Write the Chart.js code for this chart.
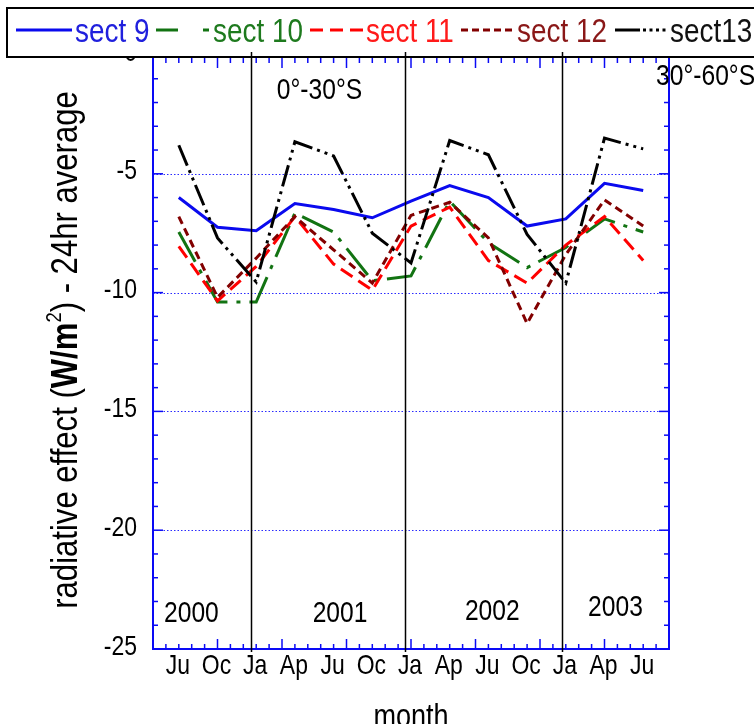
<!DOCTYPE html>
<html>
<head>
<meta charset="utf-8">
<script src="https://cdn.jsdelivr.net/npm/chart.js@4.4.1/dist/chart.umd.min.js"></script>
<style>
  html, body { margin: 0; padding: 0; background: #fff; }
  #wrap { width: 754px; height: 724px; overflow: hidden; }
  canvas { display: block; }
</style>
</head>
<body>
<div id="wrap"><canvas id="chart" width="754" height="724"></canvas></div>
<script>
// Seasonal samples: month index on the x axis (Jul 2000 = 2, one unit per month)
const monthPos    = [2, 5, 8, 11, 14, 17, 20, 23, 26, 29, 32, 35, 38];
const monthLabels = ['Ju', 'Oc', 'Ja', 'Ap', 'Ju', 'Oc', 'Ja', 'Ap', 'Ju', 'Oc', 'Ja', 'Ap', 'Ju'];
const yearBreaks  = [7.6, 19.55, 31.7];
const yearLabels  = ['2000', '2001', '2002', '2003'];
const yTickValues = [0, -5, -10, -15, -20, -25];
const gridValues  = [-5, -10, -15, -20];

// Radiative effect (W/m^2), 24 hr average, per sector
const sect9  = [-6.0, -7.25, -7.4, -6.25, -6.5, -6.85, -6.15, -5.5, -6.0, -7.2, -6.9, -5.4, -5.7];
const sect10 = [-7.45, -10.4, -10.4, -6.65, -7.45, -9.5, -9.3, -6.15, -7.9, -8.95, -8.1, -6.9, -7.45];
const sect11 = [-8.05, -10.35, -8.9, -6.8, -8.8, -9.9, -7.2, -6.4, -8.65, -9.6, -8.0, -6.8, -8.65];
const sect12 = [-6.8, -10.2, -8.55, -6.8, -8.2, -9.6, -6.75, -6.2, -7.7, -11.3, -8.4, -6.1, -7.2];
const sect13 = [-3.8, -7.7, -9.55, -3.65, -4.25, -7.5, -8.75, -3.6, -4.2, -7.55, -9.6, -3.5, -3.95];

const FONT = '"Liberation Sans", Arial, Helvetica, sans-serif';
const AXIS_BLUE = '#0a0af5';

const series = [
  { label: 'sect 9',  values: sect9,  color: '#0a0aee', text: '#2020dd', dash: [],                  order: 5 },
  { label: 'sect 10', values: sect10, color: '#127312', text: '#1e7a1e', dash: [34, 9, 4, 9],       order: 4 },
  { label: 'sect 11', values: sect11, color: '#ff0000', text: '#ff1a1a', dash: [14, 7],             order: 3 },
  { label: 'sect 12', values: sect12, color: '#820000', text: '#8a1818', dash: [8, 5],              order: 2 },
  { label: 'sect13',  values: sect13, color: '#000000', text: '#111111', dash: [22, 5, 3, 5, 3, 5], order: 1 }
];

// placement of annotation text, in data units
const yearTextAt = [
  { x: 2.98,  y: -23.85 },
  { x: 14.5,  y: -23.85 },
  { x: 26.3,  y: -23.77 },
  { x: 35.85, y: -23.6 }
];
const regionText = [
  { text: '0°-30°S',  x: 9.6,  y: -1.87 },
  { text: '30°-60°S', x: 39.0, y: -1.26 }
];

function txt(ctx, s, x, y, o) {
  ctx.save();
  ctx.translate(x, y);
  if (o.rot) ctx.rotate(o.rot);
  ctx.scale(o.sx || 0.82, 1);
  ctx.font = (o.weight || 'normal') + ' ' + o.size + 'px ' + FONT;
  ctx.fillStyle = o.color || '#000';
  ctx.textAlign = o.align || 'left';
  ctx.textBaseline = 'alphabetic';
  ctx.fillText(s, 0, 0);
  ctx.restore();
}

function yTitle(ctx, cx, cy) {
  const size = 37, sx = 0.84;
  const parts = [
    { t: 'radiative effect (', w: 'normal', s: size, dy: 0 },
    { t: 'W/m', w: 'bold', s: size, dy: 0 },
    { t: '2', w: 'normal', s: Math.round(size * 0.6), dy: -size * 0.42 },
    { t: ') - 24hr average', w: 'normal', s: size, dy: 0 }
  ];
  ctx.save();
  ctx.translate(cx, cy);
  ctx.rotate(-Math.PI / 2);
  ctx.scale(sx, 1);
  ctx.fillStyle = '#000';
  ctx.textBaseline = 'alphabetic';
  ctx.textAlign = 'left';
  let total = 0;
  parts.forEach(p => { ctx.font = p.w + ' ' + p.s + 'px ' + FONT; p.width = ctx.measureText(p.t).width; total += p.width; });
  let x = -total / 2;
  parts.forEach(p => { ctx.font = p.w + ' ' + p.s + 'px ' + FONT; ctx.fillText(p.t, x, p.dy); x += p.width; });
  ctx.restore();
}

function seg(ctx, x1, y1, x2, y2) {
  ctx.beginPath(); ctx.moveTo(x1, y1); ctx.lineTo(x2, y2); ctx.stroke();
}

const framePlugin = {
  id: 'frame',
  beforeDraw(chart) {
    const ctx = chart.ctx;
    ctx.save();
    ctx.fillStyle = '#fff';
    ctx.fillRect(0, 0, chart.width, chart.height);
    ctx.restore();
  },
  beforeDatasetsDraw(chart) {
    const { ctx, chartArea: a, scales: { y } } = chart;
    ctx.save();
    ctx.strokeStyle = '#2a2aff';
    ctx.lineWidth = 1;
    ctx.setLineDash([1.5, 2]);
    gridValues.forEach(v => {
      const py = Math.round(y.getPixelForValue(v)) + 0.5;
      seg(ctx, a.left, py, a.right, py);
    });
    ctx.restore();
  },
  afterDatasetsDraw(chart) {
    const { ctx, chartArea: a, scales: { x, y } } = chart;
    ctx.save();
    // box
    ctx.strokeStyle = AXIS_BLUE;
    ctx.lineWidth = 2;
    ctx.strokeRect(a.left, a.top, a.right - a.left, a.bottom - a.top);
    // inward ticks
    ctx.lineWidth = 1.5;
    for (let m = 1; m < 40; m++) {
      const px = x.getPixelForValue(m);
      const len = m % 5 === 0 ? 10 : 5;
      seg(ctx, px, a.bottom, px, a.bottom - len);
      seg(ctx, px, a.top, px, a.top + len + 3);
    }
    for (let v = -1; v > -25; v--) {
      const py = y.getPixelForValue(v);
      const len = v % 5 === 0 ? 10 : 5;
      seg(ctx, a.left, py, a.left + len, py);
      seg(ctx, a.right, py, a.right - len, py);
    }
    ctx.restore();

    // tick labels
    monthPos.forEach((m, i) => {
      txt(ctx, monthLabels[i], x.getPixelForValue(m) - 1, a.bottom + 25, { size: 28, align: 'center' });
    });
    yTickValues.forEach(v => {
      txt(ctx, String(v), a.left - 16, y.getPixelForValue(v) + 5.5, { size: 28, align: 'right' });
    });
    // year and region annotations
    yearLabels.forEach((s, i) => {
      txt(ctx, s, x.getPixelForValue(yearTextAt[i].x), y.getPixelForValue(yearTextAt[i].y), { size: 30, align: 'center' });
    });
    regionText.forEach(r => {
      txt(ctx, r.text, x.getPixelForValue(r.x), y.getPixelForValue(r.y), { size: 30 });
    });
    // axis titles (the second one belongs to the neighbouring panel, mostly off-canvas)
    yTitle(ctx, 77, 350);
    yTitle(ctx, 795, 350);
    txt(ctx, 'month', (a.left + a.right) / 2, 727, { size: 33, align: 'center' });
  },
  afterDraw(chart) {
    const { ctx, chartArea: a, scales: { x } } = chart;
    ctx.save();
    // legend frame
    ctx.fillStyle = '#fff';
    ctx.fillRect(7, 8, 780, 49);
    ctx.strokeStyle = '#000';
    ctx.lineWidth = 2;
    ctx.strokeRect(7, 8, 780, 49);
    const ly = 30, lt = 42;
    ctx.lineWidth = 3;
    // sect 9
    ctx.strokeStyle = series[0].color; ctx.setLineDash([]);
    seg(ctx, 16, ly, 72, ly);
    // sect 10
    ctx.strokeStyle = series[1].color;
    seg(ctx, 156, ly, 178, ly);
    seg(ctx, 203, ly, 209, ly);
    // sect 11
    ctx.strokeStyle = series[2].color; ctx.setLineDash([13, 7]);
    seg(ctx, 310, ly, 363, ly);
    // sect 12
    ctx.strokeStyle = series[3].color; ctx.setLineDash([7, 4]);
    seg(ctx, 461, ly, 515, ly);
    // sect13
    ctx.strokeStyle = series[4].color; ctx.setLineDash([]);
    seg(ctx, 615, ly, 640, ly);
    ctx.setLineDash([3, 3.5]);
    seg(ctx, 643, ly, 669, ly);
    ctx.setLineDash([]);
    ctx.restore();
    const textLeft = [75, 213, 366, 517, 670];
    series.forEach((s, i) => txt(ctx, s.label, textLeft[i], lt, { size: 34, color: s.text }));

    // year boundaries
    ctx.save();
    ctx.strokeStyle = '#000';
    ctx.lineWidth = 1.5;
    yearBreaks.forEach(m => {
      const px = Math.round(x.getPixelForValue(m)) + 0.5;
      seg(ctx, px, 52, px, a.bottom + 3);
    });
    ctx.restore();
  }
};

new Chart(document.getElementById('chart'), {
  type: 'line',
  data: {
    datasets: series.map(s => ({
      label: s.label,
      data: s.values.map((v, i) => ({ x: monthPos[i], y: v })),
      borderColor: s.color,
      backgroundColor: s.color,
      borderWidth: 3,
      borderDash: s.dash,
      pointRadius: 0,
      tension: 0,
      fill: false,
      order: s.order
    }))
  },
  options: {
    responsive: false,
    animation: false,
    devicePixelRatio: 1,
    layout: { padding: { left: 153, right: 85, top: 55, bottom: 75 } },
    scales: {
      x: { type: 'linear', min: 0, max: 40, display: false },
      y: { type: 'linear', min: -25, max: 0, display: false }
    },
    plugins: { legend: { display: false }, tooltip: { enabled: false } }
  },
  plugins: [framePlugin]
});
</script>
</body>
</html>
